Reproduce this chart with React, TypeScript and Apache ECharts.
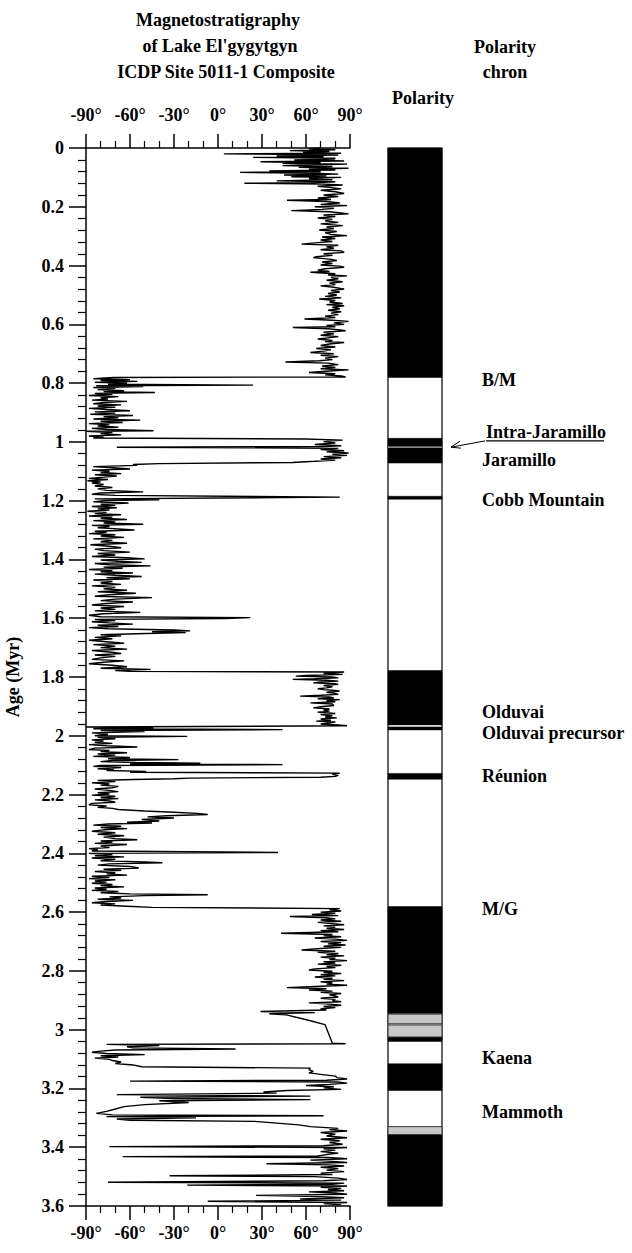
import React, { useEffect, useRef } from 'react';
import * as echarts from 'echarts';

// Inclination record, [age (Myr), inclination (deg)], split by polarity interval
const brunhesTop = [
  [0.000, 70], [0.003, 62], [0.006, 80], [0.009, 49], [0.012, 76], [0.015, 58], [0.018, 84], [0.020, 4],
  [0.022, 60], [0.024, 82], [0.027, 40], [0.030, 72], [0.032, 24], [0.035, 80], [0.038, 79], [0.041, 52],
  [0.044, 86], [0.047, 29], [0.050, 70], [0.052, 44], [0.055, 88], [0.058, 60], [0.060, 44], [0.063, 78],
  [0.066, 55], [0.069, 89], [0.072, 62], [0.075, 80], [0.078, 35], [0.081, 70], [0.083, 15], [0.086, 66],
  [0.089, 82], [0.092, 45], [0.095, 74], [0.098, 50], [0.100, 84], [0.104, 62], [0.108, 78], [0.112, 40],
  [0.115, 80], [0.118, 65], [0.120, 18], [0.123, 72], [0.126, 85], [0.130, 68],
];

const brunhes = [
  [0.134, 76], [0.139, 84], [0.144, 70], [0.149, 80], [0.155, 86], [0.160, 72], [0.165, 82], [0.170, 68],
  [0.175, 77], [0.178, 47], [0.182, 74], [0.187, 83], [0.192, 70], [0.196, 88], [0.200, 66], [0.205, 79],
  [0.209, 71], [0.213, 50], [0.217, 76], [0.221, 84], [0.224, 89], [0.228, 72], [0.233, 80], [0.238, 68],
  [0.243, 78], [0.248, 73], [0.253, 82], [0.258, 70], [0.264, 85], [0.269, 74], [0.274, 79], [0.279, 69],
  [0.284, 81], [0.289, 73], [0.294, 77], [0.298, 88], [0.303, 71], [0.308, 80], [0.313, 70], [0.318, 78],
  [0.322, 68], [0.327, 57], [0.331, 82], [0.336, 74], [0.341, 79], [0.346, 70], [0.350, 84], [0.355, 86],
  [0.360, 72], [0.365, 78], [0.370, 67], [0.373, 65], [0.378, 76], [0.383, 81], [0.388, 71], [0.393, 78],
  [0.398, 70], [0.402, 83], [0.406, 86], [0.411, 73], [0.416, 68], [0.420, 76], [0.423, 63], [0.428, 80],
  [0.432, 75], [0.435, 88], [0.440, 77], [0.445, 82], [0.450, 74], [0.455, 85], [0.460, 76], [0.465, 80],
  [0.469, 70], [0.474, 79], [0.480, 86], [0.485, 77], [0.490, 83], [0.495, 75], [0.500, 81], [0.505, 73],
  [0.510, 84], [0.514, 69], [0.519, 80], [0.524, 76], [0.529, 85], [0.533, 74], [0.537, 86], [0.542, 78],
  [0.547, 83], [0.552, 75], [0.557, 84], [0.562, 77], [0.567, 82], [0.572, 73], [0.577, 80], [0.582, 59],
  [0.586, 78], [0.590, 89], [0.595, 79], [0.600, 86], [0.604, 74], [0.608, 80], [0.611, 51], [0.615, 75],
  [0.619, 83], [0.622, 87], [0.627, 72], [0.632, 79], [0.637, 70], [0.642, 82], [0.646, 75], [0.650, 68],
  [0.655, 78], [0.659, 73], [0.662, 86], [0.667, 76], [0.672, 70], [0.677, 80], [0.682, 67], [0.687, 77],
  [0.691, 72], [0.696, 63], [0.700, 79], [0.705, 70], [0.710, 82], [0.715, 73], [0.720, 78], [0.724, 69],
  [0.728, 46], [0.732, 75], [0.737, 82], [0.742, 71], [0.747, 80], [0.751, 70], [0.755, 89], [0.759, 76],
  [0.764, 62], [0.768, 80], [0.772, 73], [0.776, 84], [0.779, 87],
];

const matuyamaLower = [
  [0.781, -71], [0.785, -85], [0.788, -60], [0.791, -80], [0.794, -55], [0.797, -84], [0.800, -62],
  [0.804, -75], [0.807, 24], [0.809, -83], [0.812, -51], [0.815, -85], [0.818, -70], [0.822, -82],
  [0.826, -64], [0.829, -78], [0.832, -43], [0.835, -84], [0.838, -72], [0.842, -88], [0.846, -68],
  [0.850, -80], [0.854, -75], [0.858, -86], [0.862, -62], [0.866, -78], [0.870, -85], [0.874, -66],
  [0.878, -82], [0.882, -70], [0.886, -88], [0.890, -76], [0.894, -60], [0.898, -84], [0.902, -70],
  [0.906, -87], [0.910, -58], [0.914, -78], [0.918, -68], [0.922, -85], [0.926, -53], [0.930, -80],
  [0.934, -65], [0.938, -88], [0.942, -74], [0.946, -82], [0.950, -68], [0.954, -86], [0.958, -76],
  [0.962, -44], [0.964, -90], [0.968, -72], [0.972, -80], [0.976, -66], [0.980, -88], [0.984, -78],
  [0.987, -85],
];

const jaramillo = [
  [0.990, 60], [0.994, 85], [0.999, 72], [1.004, 80], [1.009, 66], [1.013, 84], [1.016, 72],
  [1.018, -69], [1.022, 82], [1.026, 70], [1.030, 86], [1.034, 74], [1.038, 89], [1.042, 78],
  [1.046, 88], [1.050, 72], [1.054, 84], [1.058, 70], [1.062, 80], [1.066, 66], [1.070, 51],
  [1.074, -40], [1.077, -58],
];

const matuyamaMiddle = [
  [1.080, -55], [1.084, -85], [1.088, -72], [1.092, -60], [1.096, -86], [1.100, -74], [1.104, -80],
  [1.108, -66], [1.112, -84], [1.116, -69], [1.120, -78], [1.124, -88], [1.128, -75], [1.132, -89],
  [1.136, -80], [1.140, -86], [1.145, -78], [1.150, -84], [1.155, -72], [1.160, -82], [1.165, -76],
  [1.170, -51], [1.174, -80], [1.178, -86], [1.182, -70], [1.188, 83], [1.194, -84], [1.197, -40],
  [1.200, -78], [1.204, -85], [1.208, -61], [1.212, -80], [1.216, -70], [1.220, -86], [1.224, -69],
  [1.228, -82], [1.232, -74], [1.236, -89], [1.240, -76], [1.244, -84], [1.248, -66], [1.252, -88],
  [1.256, -72], [1.260, -80], [1.264, -62], [1.268, -85], [1.272, -70], [1.276, -78], [1.280, -51],
  [1.284, -86], [1.288, -74], [1.292, -82], [1.296, -68], [1.300, -57], [1.304, -84], [1.308, -76],
  [1.312, -88], [1.316, -70], [1.320, -80], [1.325, -64], [1.330, -85], [1.335, -72], [1.340, -80],
  [1.345, -62], [1.350, -87], [1.355, -74], [1.360, -66], [1.365, -84], [1.370, -78], [1.375, -60],
  [1.380, -82], [1.385, -70], [1.390, -86], [1.394, -62], [1.398, -50], [1.402, -80], [1.406, -68],
  [1.410, -52], [1.414, -84], [1.418, -74], [1.422, -46], [1.426, -78], [1.430, -65], [1.434, -88],
  [1.438, -72], [1.442, -80], [1.446, -58], [1.450, -84], [1.454, -70], [1.458, -52], [1.462, -76],
  [1.466, -60], [1.470, -85], [1.475, -72], [1.480, -80], [1.485, -66], [1.490, -86], [1.495, -70],
  [1.500, -78], [1.505, -62], [1.510, -82], [1.515, -56], [1.520, -74], [1.525, -84], [1.530, -45],
  [1.535, -70], [1.540, -80], [1.545, -58], [1.550, -76], [1.555, -86], [1.560, -64], [1.565, -80],
  [1.570, -70], [1.575, -84], [1.580, -53], [1.585, -78], [1.590, -88], [1.595, -80], [1.598, 22],
  [1.601, 5], [1.604, -84], [1.608, -70], [1.612, -86], [1.616, -74], [1.620, -58], [1.624, -82],
  [1.628, -68], [1.632, -88], [1.636, -75], [1.640, -30], [1.643, -19], [1.646, -45], [1.649, -22],
  [1.652, -49], [1.656, -80], [1.660, -66], [1.665, -84], [1.670, -72], [1.675, -88], [1.680, -76],
  [1.685, -64], [1.690, -85], [1.695, -70], [1.700, -80], [1.705, -62], [1.710, -86], [1.715, -74],
  [1.720, -66], [1.725, -84], [1.730, -70], [1.735, -80], [1.740, -86], [1.745, -64], [1.750, -78],
  [1.755, -88], [1.760, -72], [1.765, -62], [1.770, -80], [1.774, -46], [1.778, -70], [1.781, -60],
];

const olduvai = [
  [1.783, 86], [1.788, 72], [1.791, 85], [1.795, 60], [1.797, 53], [1.800, 78], [1.803, 82],
  [1.806, 66], [1.808, 51], [1.811, 74], [1.814, 82], [1.817, 70], [1.820, 65], [1.823, 80],
  [1.825, 82], [1.829, 72], [1.833, 78], [1.837, 74], [1.840, 68], [1.843, 72], [1.846, 80],
  [1.848, 83], [1.852, 74], [1.855, 79], [1.859, 82], [1.862, 70], [1.865, 56], [1.868, 76],
  [1.871, 79], [1.874, 68], [1.877, 83], [1.881, 74], [1.884, 80], [1.888, 63], [1.892, 78],
  [1.897, 79], [1.901, 70], [1.905, 65], [1.909, 76], [1.913, 72], [1.916, 76], [1.920, 68],
  [1.924, 80], [1.928, 70], [1.932, 78], [1.936, 73], [1.939, 81], [1.943, 70], [1.947, 77],
  [1.950, 67], [1.953, 80], [1.956, 76], [1.960, 70], [1.963, 82], [1.966, 88],
];

const matuyamaUpper = [
  [1.970, -90], [1.973, -44], [1.976, -85], [1.979, 44], [1.982, -80], [1.986, -50], [1.990, -86],
  [1.995, -75], [2.000, -84], [2.002, -21], [2.005, -82], [2.010, -70], [2.014, -86], [2.018, -78],
  [2.022, -84], [2.026, -72], [2.030, -88], [2.034, -76], [2.038, -55], [2.042, -84], [2.047, -88],
  [2.050, -74], [2.054, -80], [2.058, -62], [2.062, -82], [2.066, -70], [2.070, -85], [2.074, -60],
  [2.078, -75], [2.081, -27], [2.084, -72], [2.088, -80], [2.091, -56], [2.093, -12], [2.096, -60],
  [2.098, 44], [2.101, -80], [2.104, -85], [2.108, -66], [2.112, -82], [2.115, -71], [2.118, -76],
  [2.121, -49], [2.124, -60], [2.127, 83], [2.131, 78], [2.135, 82], [2.138, 80], [2.141, 70],
  [2.144, -20], [2.146, -30], [2.149, -58], [2.152, -82], [2.156, -70], [2.160, -86], [2.164, -74],
  [2.168, -80], [2.172, -68], [2.177, -72], [2.181, -84], [2.185, -76], [2.190, -68], [2.194, -82],
  [2.198, -74], [2.202, -86], [2.206, -70], [2.210, -80], [2.214, -68], [2.218, -84], [2.222, -74],
  [2.226, -70], [2.230, -86], [2.235, -88], [2.239, -76], [2.243, -82], [2.247, -72], [2.251, -68],
  [2.256, -50], [2.260, -30], [2.264, -14], [2.268, -7], [2.272, -35], [2.276, -48], [2.280, -30],
  [2.285, -52], [2.290, -40], [2.294, -62], [2.297, -45], [2.300, -75], [2.304, -85], [2.308, -66],
  [2.312, -80], [2.316, -62], [2.320, -78], [2.325, -86], [2.330, -70], [2.335, -82], [2.340, -64],
  [2.345, -78], [2.350, -70], [2.354, -55], [2.358, -80], [2.362, -72], [2.366, -84], [2.370, -62],
  [2.375, -80], [2.380, -74], [2.384, -88], [2.388, -82], [2.392, -86], [2.397, 41], [2.400, -88],
  [2.404, -72], [2.408, -84], [2.412, -64], [2.416, -86], [2.420, -70], [2.425, -80], [2.429, -50],
  [2.432, -38], [2.436, -74], [2.440, -82], [2.445, -60], [2.450, -54], [2.454, -78], [2.458, -66],
  [2.462, -84], [2.466, -70], [2.470, -76], [2.474, -62], [2.478, -86], [2.482, -74], [2.486, -88],
  [2.490, -70], [2.494, -84], [2.498, -76], [2.502, -86], [2.506, -72], [2.510, -80], [2.514, -64],
  [2.518, -84], [2.522, -76], [2.526, -86], [2.530, -68], [2.534, -80], [2.538, -60], [2.541, -7],
  [2.544, -50], [2.548, -74], [2.552, -66], [2.556, -82], [2.560, -58], [2.564, -76], [2.568, -86],
  [2.572, -70], [2.576, -80], [2.580, -62], [2.584, -45],
];

const gauss = [
  [2.588, 83], [2.592, 76], [2.596, 84], [2.600, 70], [2.604, 80], [2.608, 64], [2.612, 82],
  [2.615, 49], [2.619, 74], [2.623, 80], [2.627, 70], [2.631, 84], [2.635, 68], [2.639, 78],
  [2.643, 86], [2.647, 72], [2.651, 80], [2.655, 74], [2.659, 86], [2.663, 70], [2.667, 82],
  [2.672, 43], [2.676, 78], [2.680, 72], [2.684, 84], [2.688, 66], [2.692, 80], [2.696, 88],
  [2.700, 70], [2.704, 84], [2.708, 75], [2.712, 87], [2.716, 72], [2.720, 84], [2.724, 70],
  [2.729, 57], [2.733, 80], [2.737, 68], [2.741, 82], [2.745, 74], [2.749, 86], [2.753, 70],
  [2.757, 80], [2.761, 76], [2.765, 88], [2.769, 72], [2.773, 80], [2.777, 68], [2.781, 84],
  [2.785, 74], [2.789, 80], [2.793, 66], [2.797, 62], [2.801, 78], [2.805, 72], [2.809, 84],
  [2.813, 70], [2.817, 80], [2.821, 66], [2.825, 78], [2.829, 72], [2.833, 86], [2.837, 70],
  [2.841, 78], [2.845, 74], [2.849, 88], [2.853, 66], [2.857, 47], [2.861, 74], [2.865, 62],
  [2.869, 78], [2.873, 70], [2.877, 84], [2.881, 76], [2.885, 80], [2.889, 82], [2.893, 70],
  [2.897, 80], [2.901, 78], [2.905, 84], [2.909, 62], [2.913, 76], [2.917, 84], [2.921, 72],
  [2.925, 80], [2.929, 70], [2.933, 74], [2.938, 29], [2.942, 66], [2.946, 35], [2.949, 46],
  [2.967, 61], [2.983, 73], [3.046, 78], [3.048, 87],
];

const kaenaMammoth = [
  [3.050, -76], [3.054, -40], [3.058, -62], [3.062, -58], [3.066, 12], [3.069, -70], [3.073, -80],
  [3.077, -86], [3.081, -76], [3.085, -50], [3.089, -80], [3.093, -68], [3.097, -84], [3.101, -74],
  [3.105, -72], [3.110, -66], [3.115, -70], [3.120, -58], [3.126, -52], [3.131, 63], [3.136, 62],
  [3.142, 65], [3.147, 62], [3.152, 70], [3.158, 80], [3.163, 81], [3.168, 88], [3.172, 74],
  [3.175, -60], [3.178, 81], [3.182, 88], [3.186, 76], [3.190, 60], [3.194, 79], [3.198, 72],
  [3.203, 84], [3.207, 47], [3.212, 31], [3.216, 40], [3.221, -69], [3.226, 63], [3.230, -53],
  [3.234, -30], [3.238, 63], [3.242, -40], [3.248, -20], [3.255, -50], [3.262, -64], [3.270, -70],
  [3.278, -76], [3.285, -83], [3.290, -72], [3.293, 72], [3.296, -76], [3.300, -15], [3.304, -69],
  [3.308, -60], [3.312, 25], [3.318, 40], [3.324, 55],
];

const gaussLower = [
  [3.330, 63], [3.336, 82], [3.340, 76], [3.345, 88], [3.350, 70], [3.356, 80], [3.362, 74],
  [3.368, 88], [3.373, 70], [3.378, 83], [3.384, 76], [3.390, 85], [3.395, 72], [3.398, -74],
  [3.401, 88], [3.405, 72], [3.410, 80], [3.415, 70], [3.420, 82], [3.425, 74], [3.430, 68],
  [3.432, -65], [3.435, 75], [3.439, 88], [3.444, 63], [3.448, 78], [3.452, 88], [3.456, 33],
  [3.460, 76], [3.464, 86], [3.468, 70], [3.473, 82], [3.478, 74], [3.483, 86], [3.488, 70],
  [3.493, 78], [3.497, -33], [3.500, 66], [3.505, 82], [3.510, 88], [3.514, 72], [3.519, -75],
  [3.522, 86], [3.526, 78], [3.529, -21], [3.532, 88], [3.536, 70], [3.540, 84], [3.544, 75],
  [3.548, 86], [3.552, 62], [3.556, 80], [3.560, 88], [3.564, 26], [3.568, 70], [3.572, 86],
  [3.576, 56], [3.580, 84], [3.584, -7], [3.588, 88], [3.592, 72], [3.596, 84],
];

// Polarity column: [start age, end age]
const normalIntervals = [
  [0, 0.781], [0.988, 1.072], [1.185, 1.195], [1.778, 1.963], [1.970, 1.980], [2.128, 2.148],
  [2.581, 2.945], [3.025, 3.040], [3.116, 3.207], [3.357, 3.6],
];
const uncertainIntervals = [[2.947, 2.980], [2.984, 3.025], [3.330, 3.357]];
const excursionIntervals = [[1.016, 1.020]];

const chronLabels = [
  ['B/M', 0.789], ['Jaramillo', 1.062], ['Cobb Mountain', 1.198], ['Olduvai', 1.919],
  ['Olduvai precursor', 1.99], ['Réunion', 2.137], ['M/G', 2.589], ['Kaena', 3.096], ['Mammoth', 3.28],
];
const intraJaramillo = ['Intra-Jaramillo', 0.966, 1.018];

const ageTicks = { min: 0, max: 3.6, step: 0.2 };
const inclinationTicks = { min: -90, max: 90, step: 30 };

const FONT = '"Liberation Serif", "Times New Roman", serif';
const BOLD = { fontFamily: FONT, fontWeight: 'bold' as const, fontSize: 18, color: '#000' };

const record = [
  ...brunhesTop, ...brunhes, ...matuyamaLower, ...jaramillo, ...matuyamaMiddle,
  ...olduvai, ...matuyamaUpper, ...gauss, ...kaenaMammoth, ...gaussLower,
];

const polarityData = [
  ...normalIntervals.map(([a, b]) => [a, b, 0]),
  ...uncertainIntervals.map(([a, b]) => [a, b, 1]),
  ...excursionIntervals.map(([a, b]) => [a, b, 2]),
];

const bandStyles = [
  { fill: '#000', stroke: '#000', lineWidth: 0.5 },
  { fill: '#c8c8c8', stroke: '#333', lineWidth: 1 },
  { fill: '#b4b4b4', stroke: null, lineWidth: 0 },
];

function inclinationAxis(position: 'top' | 'bottom') {
  return {
    type: 'value',
    gridIndex: 0,
    position,
    min: inclinationTicks.min,
    max: inclinationTicks.max,
    interval: inclinationTicks.step,
    axisLine: { show: true, onZero: false, lineStyle: { color: '#000', width: 1.5 } },
    axisTick: { show: true, length: 14, lineStyle: { color: '#000', width: 1.5 } },
    minorTick: { show: true, splitNumber: 3, length: 7, lineStyle: { color: '#000', width: 1.2 } },
    splitLine: { show: false },
    axisLabel: { ...BOLD, margin: position === 'top' ? 24 : 18, formatter: '{value}°' },
  };
}

export default function App() {
  const ref = useRef<HTMLDivElement>(null);

  useEffect(() => {
    const chart = echarts.init(ref.current!, null, { renderer: 'svg' });
    const option: any = {
      animation: false,
      backgroundColor: '#fff',
      grid: [
        { left: 86, top: 148, width: 264, height: 1058 },
        { left: 388, top: 148, width: 54, height: 1058, show: true, borderColor: '#000', borderWidth: 1.2, backgroundColor: '#fff' },
      ],
      xAxis: [
        inclinationAxis('bottom'),
        inclinationAxis('top'),
        { type: 'value', gridIndex: 1, min: 0, max: 1, show: false },
      ],
      yAxis: [
        {
          type: 'value',
          gridIndex: 0,
          inverse: true,
          min: ageTicks.min,
          max: ageTicks.max,
          interval: ageTicks.step,
          name: 'Age (Myr)',
          nameLocation: 'middle',
          nameRotate: 90,
          nameGap: 64,
          nameTextStyle: { ...BOLD },
          axisLine: { show: true, onZero: false, lineStyle: { color: '#000', width: 1.5 } },
          axisTick: { show: true, length: 17, lineStyle: { color: '#000', width: 1.5 } },
          minorTick: { show: true, splitNumber: 5, length: 8, lineStyle: { color: '#000', width: 1.2 } },
          splitLine: { show: false },
          axisLabel: { ...BOLD, margin: 22 },
        },
        { type: 'value', gridIndex: 1, inverse: true, min: ageTicks.min, max: ageTicks.max, show: false },
      ],
      series: [
        {
          type: 'line',
          xAxisIndex: 0,
          yAxisIndex: 0,
          data: record.map(([age, inc]) => [inc, age]),
          showSymbol: false,
          symbol: 'none',
          lineStyle: { color: '#000', width: 1.4 },
          z: 3,
        },
        {
          type: 'custom',
          xAxisIndex: 2,
          yAxisIndex: 1,
          data: polarityData,
          renderItem: (_params: any, api: any) => {
            const p0 = api.coord([0, api.value(0)]);
            const p1 = api.coord([1, api.value(1)]);
            const kind = api.value(2);
            const st = bandStyles[kind];
            return {
              type: 'rect',
              shape: { x: p0[0], y: p0[1], width: p1[0] - p0[0], height: Math.max(p1[1] - p0[1], 1) },
              style: { fill: st.fill, stroke: st.stroke, lineWidth: st.lineWidth },
              z2: kind === 2 ? 10 : 1,
            };
          },
          z: 2,
        },
      ],
    };
    chart.setOption(option);

    const labelX = 482;
    const yOf = (age: number) => chart.convertToPixel({ yAxisIndex: 1 }, age) as number;
    const text = (t: string, x: number, y: number, align = 'left') => ({
      type: 'text',
      x,
      y,
      style: { text: t, fill: '#000', font: `bold 18px ${FONT}`, align, verticalAlign: 'middle' },
    });

    const [ijName, ijLabelAge, ijAge] = intraJaramillo as [string, number, number];
    const ijY = yOf(ijLabelAge);
    const tipY = yOf(ijAge);
    const ulY = ijY + 9;
    const tipX = 451;
    const tailX = labelX + 3;

    const graphic: any[] = [
      text('Magnetostratigraphy', 218, 20, 'center'),
      text("of Lake El'gygytgyn", 220, 46, 'center'),
      text('ICDP Site 5011-1 Composite', 226, 72, 'center'),
      text('Polarity', 505, 47, 'center'),
      text('chron', 505, 72, 'center'),
      text('Polarity', 423, 98, 'center'),
      ...chronLabels.map(([name, age]) => text(name as string, labelX, yOf(age as number))),
      text(ijName, labelX + 4, ijY),
      {
        type: 'line',
        shape: { x1: labelX + 4, y1: ulY, x2: labelX + 122, y2: ulY },
        style: { stroke: '#000', lineWidth: 1.2 },
      },
      {
        type: 'line',
        shape: { x1: tailX, y1: ulY, x2: tipX, y2: tipY },
        style: { stroke: '#000', lineWidth: 1 },
      },
      {
        type: 'polyline',
        shape: { points: [[tipX + 9, tipY - 6], [tipX, tipY], [tipX + 10, tipY + 1]] },
        style: { stroke: '#000', lineWidth: 1, fill: null },
      },
    ];
    chart.setOption({ graphic });

    return () => chart.dispose();
  }, []);

  return <div ref={ref} style={{ position: 'absolute', left: 0, top: 0, width: 632, height: 1253 }} />;
}
